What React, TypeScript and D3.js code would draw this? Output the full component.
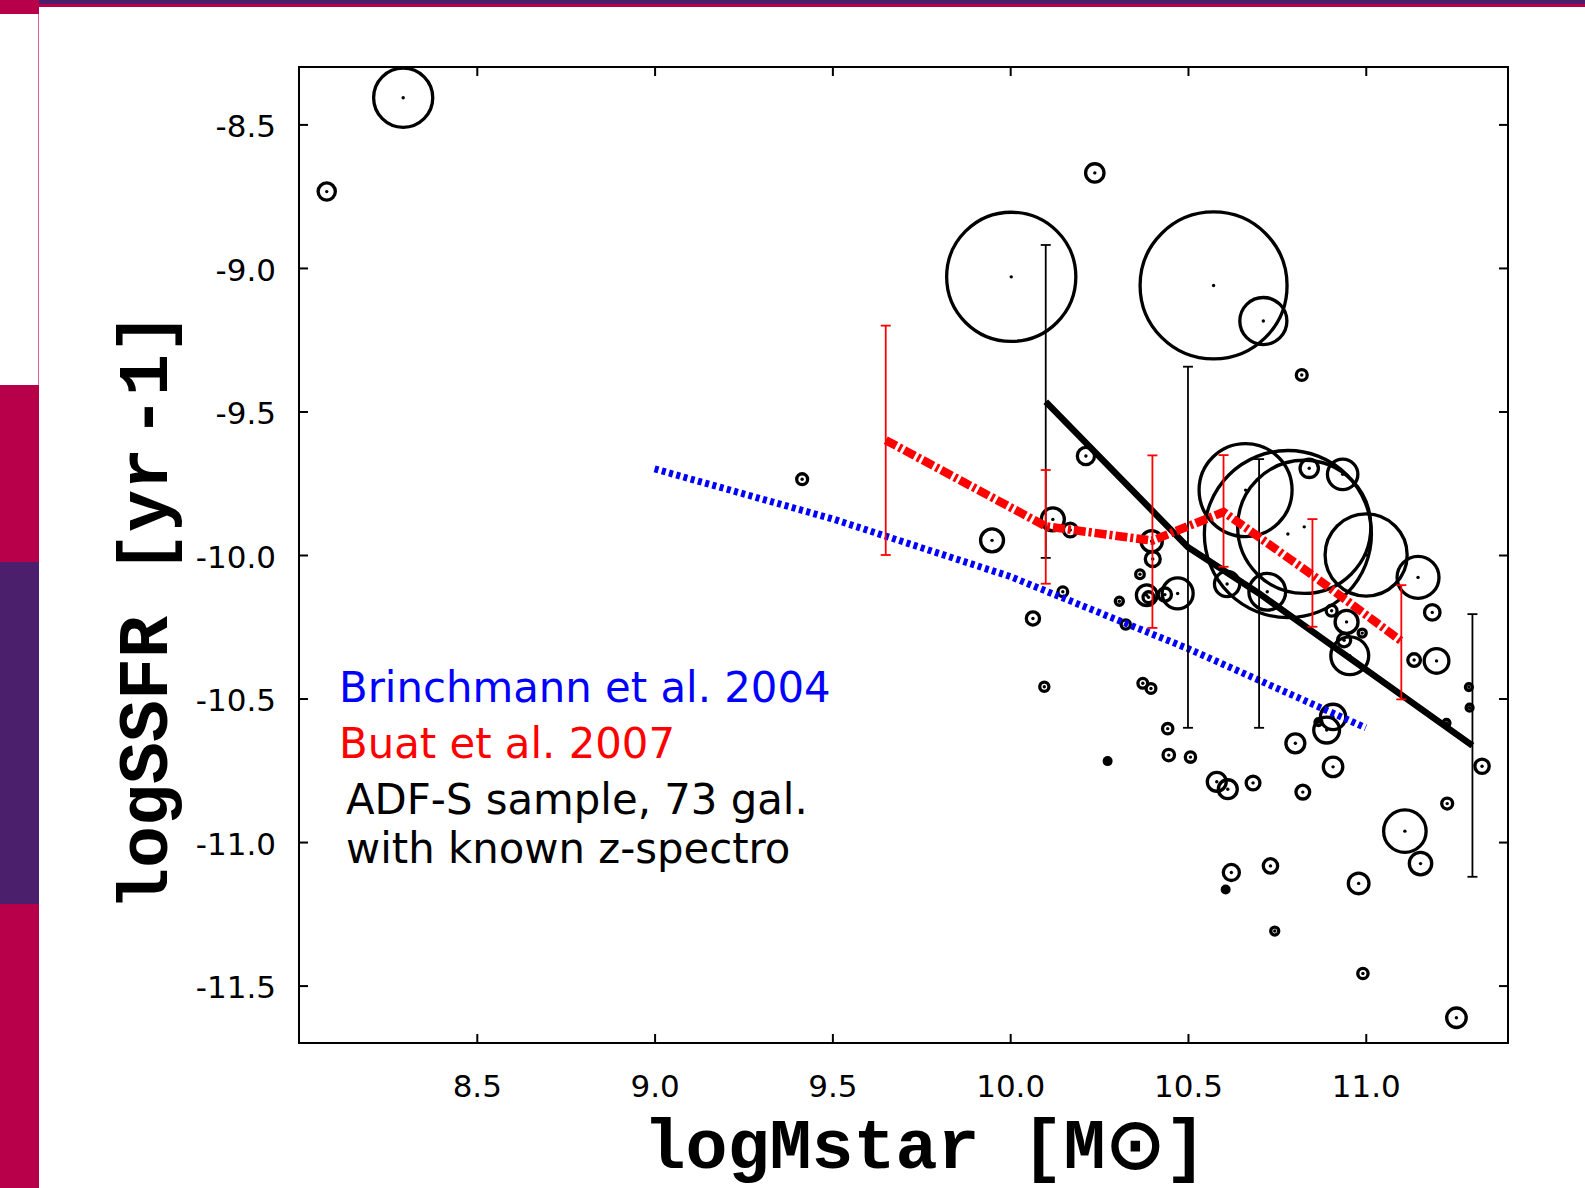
import React, { useEffect, useRef } from "react";
import { select, scaleLinear, axisBottom, axisLeft, axisTop, axisRight, line } from "d3";

const xTicks = [8.5, 9.0, 9.5, 10.0, 10.5, 11.0];
const yTicks = [-8.5, -9.0, -9.5, -10.0, -10.5, -11.0, -11.5];

// ADF-S galaxies: log Mstar, log SSFR and error on log SSFR (0 -> plain dot)
const galMass = [
  8.293, 8.078, 10.238, 10.003, 10.572, 10.712, 10.82, 10.213, 10.12, 10.169,
  9.949, 10.398, 10.401, 10.365, 10.384, 10.389, 10.435, 10.471, 10.307, 10.064,
  10.148, 10.325, 10.096, 10.373, 10.396, 10.443, 10.446, 10.507, 10.274, 10.581,
  10.612, 10.683, 10.823, 10.908, 10.802, 10.908, 10.89, 10.867, 10.946, 10.939,
  10.955, 10.99, 10.904, 11.147, 11.187, 11.136, 11.199, 11.29, 11.292, 11.227,
  11.327, 11.229, 11.11, 11.154, 10.98, 10.622, 10.732, 10.606, 10.744, 10.992,
  11.255, 9.415, 10.662, 10.781, 10.827, 10.841, 10.935, 11.001, 10.61, 10.723,
];
const galSsfr = [
  -8.407, -8.734, -8.669, -9.031, -9.061, -9.185, -9.373, -9.655, -9.876, -9.913,
  -9.949, -9.952, -10.014, -10.067, -10.14, -10.147, -10.138, -10.134, -10.161, -10.221,
  -10.128, -10.242, -10.459, -10.447, -10.465, -10.605, -10.697, -10.704, -10.718, -10.79,
  -10.816, -10.794, -10.826, -10.738, -10.656, -10.564, -10.61, -10.582, -10.233, -10.297,
  -10.351, -10.272, -10.194, -10.078, -10.2, -10.366, -10.369, -10.46, -10.532, -10.585,
  -10.736, -10.866, -10.962, -11.075, -11.144, -11.106, -11.083, -11.165, -11.31, -11.458,
  -11.612, -9.736, -9.774, -9.927, -9.902, -9.698, -9.719, -10.0, -10.101, -10.128,
];
const galErr = [
  0.103, 0.03, 0.032, 0.225, 0.256, 0.082, 0.019, 0.03, 0.04, 0.024,
  0.04, 0.037, 0.026, 0.015, 0.036, 0.019, 0.023, 0.054, 0.014, 0.023,
  0.017, 0.016, 0.016, 0.017, 0.017, 0.018, 0.02, 0.018, 0, 0.033,
  0.033, 0.024, 0.024, 0.034, 0.033, 0.044, 0.045, 0.012, 0.04, 0.023,
  0.066, 0.014, 0.019, 0.073, 0.027, 0.022, 0.043, 0.012, 0.012, 0.012,
  0.025, 0.019, 0.074, 0.039, 0.036, 0.028, 0.025, 0, 0.014, 0.018,
  0.034, 0.019, 0.162, 0.291, 0.232, 0.032, 0.053, 0.143, 0.044, 0.064,
];

// Brinchmann et al. 2004
const brinchMass = [9.0, 9.5, 10.0, 10.5, 11.0];
const brinchSsfr = [-9.7, -9.874, -10.075, -10.326, -10.602];

// Buat et al. 2007
const buatMass = [9.65, 10.1, 10.4, 10.6, 10.85, 11.1];
const buatSsfr = [-9.6, -9.9, -9.95, -9.85, -10.07, -10.3];
const buatLow = [-10.0, -10.1, -10.254, -10.041, -10.25, -10.503];
const buatHigh = [-9.201, -9.704, -9.653, -9.652, -9.875, -10.105];

// ADF-S sample, binned
const binMass = [10.1, 10.5, 10.7, 11.3];
const binSsfr = [-9.466, -9.973, -10.134, -10.664];
const binLow = [-10.01, -10.602, -10.602, -11.121];
const binHigh = [-8.92, -9.344, -9.666, -10.206];

const legend = [
  { text: "Brinchmann et al. 2004", color: "#0000ff", dx: 0, y: 702 },
  { text: "Buat et al. 2007", color: "#ff0000", dx: 0, y: 758 },
  { text: "ADF-S sample, 73 gal.", color: "#000000", dx: 7, y: 814 },
  { text: "with known z-spectro", color: "#000000", dx: 7, y: 863 },
];

const W = 1585;
const H = 1188;
const left = 299;
const right = 1508;
const top = 67;
const bottom = 1043;

const x = scaleLinear().domain([8.0, 11.4]).range([left, right]);
const y = scaleLinear().domain([-11.7, -8.3]).range([bottom, top]);
const rad = (e: number) => y(-10) - y(-10 + e);

const CRIMSON = "#b8004a";
const PURPLE = "#4b1f6b";

const App = () => {
  const ref = useRef<SVGSVGElement>(null);

  useEffect(() => {
    const svg = select(ref.current);
    const fmt = (d: any) => d.toFixed(1);

    svg.select(".x-axis").attr("transform", `translate(0,${bottom})`)
      .call(axisBottom(x).tickValues(xTicks).tickSize(-9).tickSizeOuter(0).tickPadding(32).tickFormat(fmt) as any);
    svg.select(".x-top").attr("transform", `translate(0,${top})`)
      .call(axisTop(x).tickValues(xTicks).tickSize(-9).tickSizeOuter(0).tickFormat(() => "") as any);
    svg.select(".y-axis").attr("transform", `translate(${left},0)`)
      .call(axisLeft(y).tickValues(yTicks).tickSize(-9).tickSizeOuter(0).tickPadding(23).tickFormat(fmt) as any);
    svg.select(".y-right").attr("transform", `translate(${right},0)`)
      .call(axisRight(y).tickValues(yTicks).tickSize(-9).tickSizeOuter(0).tickFormat(() => "") as any);

    svg.selectAll(".axis path.domain").remove();
    svg.selectAll(".axis").attr("font-family", null).attr("font-size", null);
    svg.selectAll(".axis line").attr("stroke", "#000").attr("stroke-width", 2);
    svg.selectAll(".axis text")
      .attr("font-family", "DejaVu Sans")
      .attr("font-size", 31)
      .attr("fill", "#000");
    svg.selectAll(".y-axis text").attr("dy", "0.40em");
  }, []);

  const brinchLine = line<number>().x((d) => x(d)).y((d, i) => y(brinchSsfr[i]))(brinchMass);
  const buatLine = line<number>().x((d) => x(d)).y((d, i) => y(buatSsfr[i]))(buatMass);
  const binLine = line<number>().x((d) => x(d)).y((d, i) => y(binSsfr[i]))(binMass);

  return (
    <svg ref={ref} width={W} height={H} style={{ position: "absolute", left: 0, top: 0, background: "#fff" }}>
      {/* page decoration */}
      <rect x={0} y={0} width={W} height={4} fill={PURPLE} />
      <rect x={0} y={4} width={W} height={3} fill={CRIMSON} />
      <rect x={0} y={0} width={39} height={14} fill={CRIMSON} />
      <line x1={38.5} x2={38.5} y1={14} y2={385} stroke="#e0609a" strokeWidth={1} />
      <rect x={0} y={385} width={39} height={177} fill={CRIMSON} />
      <rect x={0} y={562} width={39} height={342} fill={PURPLE} />
      <rect x={0} y={904} width={39} height={H - 904} fill={CRIMSON} />

      {/* galaxies */}
      <g>
        {galMass.map((m, i) =>
          galErr[i] > 0 ? (
            <g key={i}>
              <circle cx={x(m)} cy={y(galSsfr[i])} r={rad(galErr[i])} fill="none" stroke="#000" strokeWidth={3.3} />
              <circle cx={x(m)} cy={y(galSsfr[i])} r={1.7} fill="#000" />
            </g>
          ) : (
            <circle key={i} cx={x(m)} cy={y(galSsfr[i])} r={5} fill="#000" />
          )
        )}
      </g>

      {/* Brinchmann et al. 2004 */}
      <path d={brinchLine || ""} fill="none" stroke="#0000ff" strokeWidth={7} strokeDasharray="4,3.5" />

      {/* binned ADF-S */}
      <g stroke="#000" strokeWidth={1.8}>
        {binMass.map((m, i) => (
          <g key={i}>
            <line x1={x(m)} x2={x(m)} y1={y(binLow[i])} y2={y(binHigh[i])} />
            <line x1={x(m) - 5} x2={x(m) + 5} y1={y(binLow[i])} y2={y(binLow[i])} />
            <line x1={x(m) - 5} x2={x(m) + 5} y1={y(binHigh[i])} y2={y(binHigh[i])} />
          </g>
        ))}
      </g>
      <path d={binLine || ""} fill="none" stroke="#000" strokeWidth={6.5} />

      {/* Buat et al. 2007 */}
      <g stroke="#ff0000" strokeWidth={1.8}>
        {buatMass.map((m, i) => (
          <g key={i}>
            <line x1={x(m)} x2={x(m)} y1={y(buatLow[i])} y2={y(buatHigh[i])} />
            <line x1={x(m) - 5} x2={x(m) + 5} y1={y(buatLow[i])} y2={y(buatLow[i])} />
            <line x1={x(m) - 5} x2={x(m) + 5} y1={y(buatHigh[i])} y2={y(buatHigh[i])} />
          </g>
        ))}
      </g>
      <path d={buatLine || ""} fill="none" stroke="#ff0000" strokeWidth={8.5} strokeDasharray="12,3,3,3" />

      {/* frame and axes */}
      <rect x={left} y={top} width={right - left} height={bottom - top} fill="none" stroke="#000" strokeWidth={2} />
      <g className="axis x-axis"></g>
      <g className="axis x-top"></g>
      <g className="axis y-axis"></g>
      <g className="axis y-right"></g>

      <text x={925} y={1168} textAnchor="middle" fontFamily="Liberation Mono" fontWeight="bold" fontSize={70} fill="#000">
        logMstar [M⊙]
      </text>
      <text transform="translate(167,611) rotate(-90)" textAnchor="middle" fontFamily="Liberation Mono" fontWeight="bold" fontSize={70} fill="#000">
        logSSFR [yr<tspan dx={10}>-1]</tspan>
      </text>

      {legend.map((l, i) => (
        <text key={i} x={339 + l.dx} y={l.y} fontFamily="DejaVu Sans" fontSize={41.8} fill={l.color}>
          {l.text}
        </text>
      ))}
    </svg>
  );
};

export default App;
